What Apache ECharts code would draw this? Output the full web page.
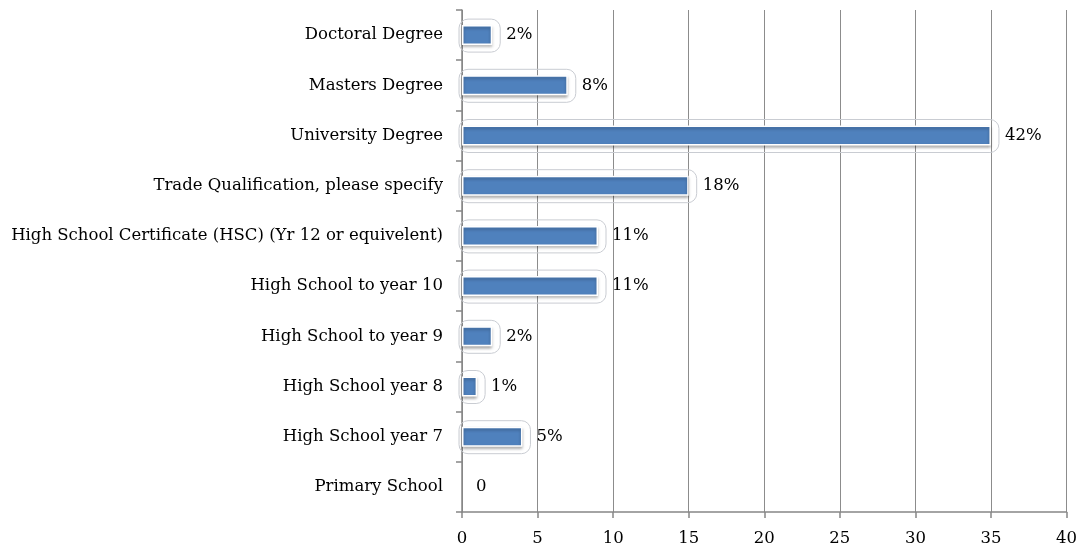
<!DOCTYPE html>
<html>
<head>
<meta charset="utf-8">
<script src="https://cdn.jsdelivr.net/npm/echarts@6/dist/echarts.min.js"></script>
<style>
  html, body { margin: 0; padding: 0; background: #fff; }
  #chart { width: 1080px; height: 548px; }
</style>
</head>
<body>
<div id="chart"></div>
<script>
// Highest level of education completed, listed top to bottom
const categories = [
  'Doctoral Degree',
  'Masters Degree',
  'University Degree',
  'Trade Qualification, please specify',
  'High School Certificate (HSC) (Yr 12 or equivelent)',
  'High School to year 10',
  'High School to year 9',
  'High School year 8',
  'High School year 7',
  'Primary School'
];
// Number of respondents in each group
const counts = [2, 7, 35, 15, 9, 9, 2, 1, 4, 0];
const xTicks = { min: 0, max: 40, interval: 5 };

const total = counts.reduce((a, b) => a + b, 0);
const pctLabel = v => v === 0 ? '0' : Math.round(v / total * 100) + '%';

const FONT = 'DejaVu Serif';
const FS = 16.5;
const chart = echarts.init(document.getElementById('chart'));

chart.setOption({
  animation: false,
  textStyle: { fontFamily: FONT },
  grid: { left: 462, right: 9, top: 10, bottom: 36, containLabel: false },
  xAxis: {
    type: 'value',
    min: xTicks.min, max: xTicks.max, interval: xTicks.interval,
    axisLine: { show: true, lineStyle: { color: '#868686', width: 1.5 } },
    axisTick: { show: true, length: 6, lineStyle: { color: '#868686', width: 1.5 } },
    splitLine: { show: true, lineStyle: { color: '#8c8c8c', width: 1 } },
    axisLabel: { color: '#000', fontSize: FS, fontFamily: FONT, margin: 18 }
  },
  yAxis: {
    type: 'category',
    inverse: true,
    data: categories,
    axisLine: { show: true, lineStyle: { color: '#868686', width: 1.5 } },
    axisTick: { show: true, length: 6, lineStyle: { color: '#868686', width: 1.5 } },
    axisLabel: { color: '#000', fontSize: FS, fontFamily: FONT, margin: 19 }
  },
  series: [
    {
      // rounded frame around each bar
      type: 'custom',
      z: 1,
      silent: true,
      encode: { x: 0, y: 1 },
      data: counts.map((v, i) => [v, i]),
      renderItem: function (params, api) {
        const v = api.value(0);
        if (!v) return null;
        const idx = api.value(1);
        const p0 = api.coord([0, idx]);
        const p1 = api.coord([v, idx]);
        return {
          type: 'rect',
          shape: { x: p0[0] - 3, y: p0[1] - 16, width: p1[0] - p0[0] + 11, height: 33, r: 9 },
          style: { fill: 'rgba(255,255,255,0)', stroke: '#c9ccd2', lineWidth: 1 }
        };
      }
    },
    {
      type: 'bar',
      z: 2,
      data: counts.map(v => v === 0
        ? { value: v, itemStyle: { borderWidth: 0, shadowColor: 'rgba(0,0,0,0)' } }
        : v),
      barWidth: 20,
      itemStyle: {
        color: '#4f81bd',
        borderColor: '#ffffff',
        borderWidth: 1.5,
        shadowColor: 'rgba(0,0,0,0.3)',
        shadowBlur: 3,
        shadowOffsetY: 2
      },
      label: {
        show: true,
        position: 'right',
        distance: 14,
        color: '#000',
        fontSize: FS,
        fontFamily: FONT,
        formatter: p => pctLabel(p.value)
      }
    }
  ]
});
</script>
</body>
</html>
